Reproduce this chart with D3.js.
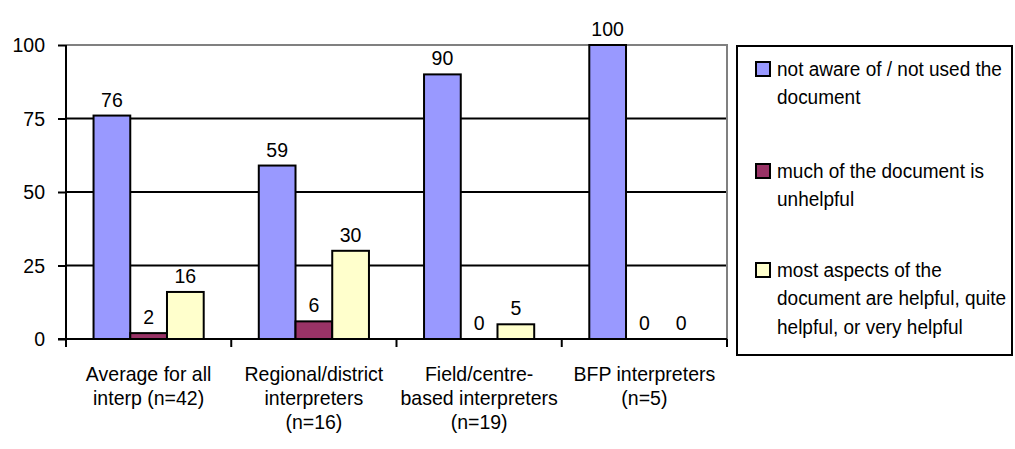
<!DOCTYPE html>
<html>
<head>
<meta charset="utf-8">
<script src="https://cdn.jsdelivr.net/npm/d3@7"></script>
<style>
  html, body { margin: 0; padding: 0; background: #ffffff; }
  svg { display: block; font-family: "Liberation Sans", Arial, sans-serif; }
</style>
</head>
<body>
<svg id="chart" width="1015" height="449"></svg>
<script>
// Survey groups (each label broken over lines as on the axis)
const categories = [
  ["Average for all", "interp (n=42)"],
  ["Regional/district", "interpreters", "(n=16)"],
  ["Field/centre-", "based interpreters", "(n=19)"],
  ["BFP interpreters", "(n=5)"]
];

// Response series, percentage of interpreters
const seriesNames = [
  ["not aware of / not used the", "document"],
  ["much of the document is", "unhelpful"],
  ["most aspects of the", "document are helpful, quite", "helpful, or very helpful"]
];
const notAware = [76, 59, 90, 100];
const unhelpful = [2, 6, 0, 0];
const helpful = [16, 30, 5, 0];

const yTicks = [0, 25, 50, 75, 100];

const seriesValues = [notAware, unhelpful, helpful];
const colors = ["#9999FF", "#993366", "#FFFFCC"];

const FONT_SIZE = 21;
const SQUEEZE = 0.93; // slightly condensed lettering

const svg = d3.select("#chart");
const plot = { left: 66, right: 727, top: 45, bottom: 339 };

// multi-line text drawn in a horizontally condensed group
function label(parent, x, baselines, lines, anchor, squeeze = SQUEEZE) {
  const g = parent.append("g")
    .attr("transform", `translate(${x},0) scale(${squeeze},1)`);
  const t = g.append("text")
    .attr("font-size", FONT_SIZE)
    .attr("fill", "#000")
    .attr("text-anchor", anchor);
  lines.forEach((ln, k) => {
    t.append("tspan").attr("x", 0).attr("y", baselines[k]).text(ln);
  });
  return g;
}

const x0 = d3.scaleBand()
  .domain(d3.range(categories.length))
  .range([plot.left, plot.right])
  .padding(0);

// gap width 150%: three bars plus 1.5 bar widths of spacing per group
const barW = x0.bandwidth() / 4.5;
const x1 = d3.scaleBand()
  .domain(d3.range(seriesValues.length))
  .range([barW * 0.75, barW * 0.75 + barW * 3])
  .padding(0);

const y = d3.scaleLinear().domain([0, 100]).range([plot.bottom, plot.top]);

// horizontal gridlines
svg.append("g")
  .selectAll("line")
  .data(yTicks.filter(t => t > 0 && t < 100))
  .join("line")
  .attr("x1", plot.left).attr("x2", plot.right)
  .attr("y1", d => y(d)).attr("y2", d => y(d))
  .attr("stroke", "#000").attr("stroke-width", 2);

// plot area frame (top and right)
svg.append("path")
  .attr("d", `M${plot.left},${y(100)}H${plot.right}V${plot.bottom}`)
  .attr("fill", "none")
  .attr("stroke", "#808080")
  .attr("stroke-width", 2);

// bars
const cells = [];
categories.forEach((c, i) => {
  seriesValues.forEach((vals, s) => cells.push({ i, s, v: vals[i] }));
});

svg.append("g")
  .selectAll("rect")
  .data(cells)
  .join("rect")
  .attr("x", d => x0(d.i) + x1(d.s))
  .attr("width", x1.bandwidth())
  .attr("y", d => y(d.v))
  .attr("height", d => y(0) - y(d.v))
  .attr("fill", d => colors[d.s])
  .attr("stroke", d => d.v > 0 ? "#000" : "none")
  .attr("stroke-width", 2);

// value labels
const valueLayer = svg.append("g");
cells.forEach(d => {
  label(valueLayer, x0(d.i) + x1(d.s) + x1.bandwidth() / 2,
        [y(d.v) - 9], [String(d.v)], "middle");
});

// y axis
const yAxis = svg.append("g")
  .attr("transform", `translate(${plot.left},0)`)
  .call(d3.axisLeft(y).tickValues(yTicks).tickSize(8).tickFormat(""));
yAxis.select(".domain").attr("stroke", "#000").attr("stroke-width", 2)
  .attr("d", `M0,${y(100)}V${y(0)}`);
yAxis.selectAll(".tick line").attr("stroke", "#000").attr("stroke-width", 2);
const yLabels = svg.append("g");
yTicks.forEach(t => {
  label(yLabels, 45, [y(t) + 7.5], [String(t)], "end");
});

// x axis: ticks sit on category boundaries
const boundaries = d3.range(categories.length + 1).map(i =>
  i < categories.length ? x0(i) : x0(i - 1) + x0.bandwidth());
const xAxisG = svg.append("g");
xAxisG.append("line")
  .attr("x1", plot.left - 8).attr("x2", plot.right)
  .attr("y1", y(0)).attr("y2", y(0))
  .attr("stroke", "#000").attr("stroke-width", 2);
xAxisG.selectAll("line.tick")
  .data(boundaries)
  .join("line")
  .attr("class", "tick")
  .attr("x1", d => d).attr("x2", d => d)
  .attr("y1", y(0)).attr("y2", y(0) + 8)
  .attr("stroke", "#000").attr("stroke-width", 2);

categories.forEach((lines, i) => {
  label(xAxisG, x0(i) + x0.bandwidth() / 2,
        lines.map((_, k) => 381 + k * 24), lines, "middle");
});

// legend
const legend = svg.append("g");
legend.append("rect")
  .attr("x", 737).attr("y", 46)
  .attr("width", 275).attr("height", 309)
  .attr("fill", "#fff")
  .attr("stroke", "#000").attr("stroke-width", 2);

const legendTop = [76, 178, 277];
seriesNames.forEach((lines, s) => {
  const base = legendTop[s];
  legend.append("rect")
    .attr("x", 756).attr("y", base - 14)
    .attr("width", 14).attr("height", 14)
    .attr("fill", colors[s])
    .attr("stroke", "#000").attr("stroke-width", 2);
  label(legend, 777, lines.map((_, k) => base + k * 28.5), lines, "start", 0.905);
});
</script>
</body>
</html>
